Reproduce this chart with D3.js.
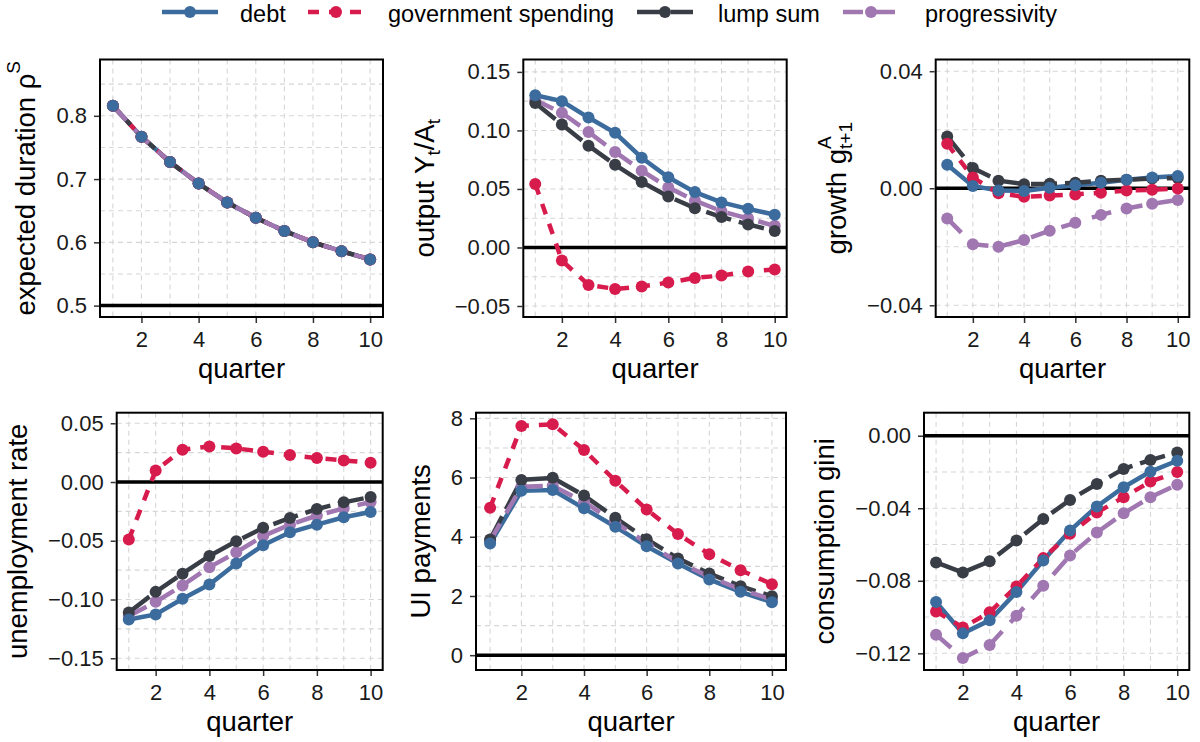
<!DOCTYPE html>
<html>
<head>
<meta charset="utf-8">
<script src="https://cdn.jsdelivr.net/npm/d3@7"></script>
<style>
  body { margin: 0; background: #fff; }
  text { font-family: "Liberation Sans", Arial, Helvetica, sans-serif; }
</style>
</head>
<body>
<script>
// quarters on the x axis
var quarters = [1, 2, 3, 4, 5, 6, 7, 8, 9, 10];
var seriesNames = ["debt", "government spending", "lump sum", "progressivity"];

// expected duration rho^S (all four financing schemes coincide)
var durationDebt = [0.816, 0.767, 0.727, 0.693, 0.663, 0.639, 0.618, 0.600, 0.586, 0.573];
var durationGov  = [0.816, 0.767, 0.727, 0.693, 0.663, 0.639, 0.618, 0.600, 0.586, 0.573];
var durationLump = [0.816, 0.767, 0.727, 0.693, 0.663, 0.639, 0.618, 0.600, 0.586, 0.573];
var durationProg = [0.816, 0.767, 0.727, 0.693, 0.663, 0.639, 0.618, 0.600, 0.586, 0.573];

// output Y_t / A_t
var outputDebt = [0.130, 0.125, 0.111, 0.098, 0.0767, 0.060, 0.0473, 0.0385, 0.033, 0.028];
var outputGov  = [0.0542, -0.0111, -0.032, -0.0354, -0.0334, -0.030, -0.026, -0.024, -0.0205, -0.0188];
var outputLump = [0.1235, 0.105, 0.087, 0.0707, 0.0559, 0.0436, 0.0336, 0.026, 0.0197, 0.014];
var outputProg = [0.126, 0.115, 0.0987, 0.0816, 0.0656, 0.0513, 0.040, 0.031, 0.0248, 0.0185];

// growth g^A_{t+1}
var growthDebt = [0.008, 0.0008, -0.0008, -0.0009, 0.0002, 0.001, 0.0019, 0.0029, 0.0037, 0.0042];
var growthGov  = [0.0152, 0.0037, -0.0017, -0.0029, -0.0025, -0.0021, -0.0015, -0.0008, -0.0005, -0.0001];
var growthLump = [0.0177, 0.0069, 0.0026, 0.0014, 0.0015, 0.0019, 0.0026, 0.0029, 0.0033, 0.0035];
var growthProg = [-0.0103, -0.0191, -0.020, -0.0177, -0.0145, -0.0118, -0.0091, -0.0069, -0.0053, -0.004];

// unemployment rate
var unempDebt = [-0.117, -0.1127, -0.0994, -0.0873, -0.0694, -0.0538, -0.0428, -0.0363, -0.030, -0.0255];
var unempGov  = [-0.049, 0.0099, 0.0275, 0.0303, 0.0286, 0.0258, 0.023, 0.0204, 0.0184, 0.0164];
var unempLump = [-0.111, -0.0935, -0.078, -0.063, -0.0504, -0.039, -0.0306, -0.023, -0.0173, -0.0127];
var unempProg = [-0.114, -0.102, -0.088, -0.0725, -0.0598, -0.046, -0.0363, -0.0286, -0.0224, -0.017];

// UI payments
var uiDebt = [3.77, 5.55, 5.58, 4.96, 4.34, 3.68, 3.10, 2.56, 2.14, 1.79];
var uiGov  = [4.98, 7.74, 7.80, 6.93, 5.89, 4.92, 4.09, 3.41, 2.87, 2.40];
var uiLump = [3.91, 5.92, 5.99, 5.39, 4.64, 3.92, 3.27, 2.76, 2.33, 1.99];
var uiProg = [3.86, 5.69, 5.72, 5.18, 4.48, 3.79, 3.15, 2.65, 2.22, 1.88];

// consumption gini
var giniDebt = [-0.0917, -0.109, -0.1018, -0.0862, -0.0688, -0.0523, -0.039, -0.0284, -0.0198, -0.0138];
var giniGov  = [-0.0969, -0.1057, -0.0974, -0.0831, -0.0675, -0.0541, -0.0424, -0.0339, -0.0253, -0.020];
var giniLump = [-0.0699, -0.0754, -0.0692, -0.0578, -0.0459, -0.0354, -0.0266, -0.0183, -0.0134, -0.0092];
var giniProg = [-0.1097, -0.1226, -0.1154, -0.0993, -0.0828, -0.066, -0.0534, -0.0428, -0.0339, -0.027];

// tick values
var xTicks = [2, 4, 6, 8, 10];
var xMinor = [1, 3, 5, 7, 9];
var durationTicks = [0.5, 0.6, 0.7, 0.8];
var outputTicks = [-0.05, 0, 0.05, 0.10, 0.15];
var growthTicks = [-0.04, 0, 0.04];
var unempTicks = [-0.15, -0.10, -0.05, 0, 0.05];
var uiTicks = [0, 2, 4, 6, 8];
var giniTicks = [-0.12, -0.08, -0.04, 0];

// styles
var colors = ["#3b6c9d", "#d81b4d", "#393d46", "#a077b1"];
var dashes = [null, "11,10", "26,8", "20,12"];
var fontFamily = "Liberation Sans, Arial, Helvetica, sans-serif";

var panels = [
  { box: [100, 59.5, 383, 317], domain: [0.482, 0.889], ticks: durationTicks, fmt: ".1f", hline: 0.5,
    values: [durationDebt, durationGov, durationLump, durationProg],
    title: [{ t: "expected duration \u03c1" }, { t: "S", sup: true }] },
  { box: [523.3, 59.5, 786.7, 317], domain: [-0.0594, 0.1606], ticks: outputTicks, fmt: ".2f", hline: 0,
    values: [outputDebt, outputGov, outputLump, outputProg],
    title: [{ t: "output Y" }, { t: "t", sub: true }, { t: "/A" }, { t: "t", sub: true }] },
  { box: [935.7, 59.5, 1189.3, 317], domain: [-0.044, 0.044], ticks: growthTicks, fmt: ".2f", hline: 0,
    values: [growthDebt, growthGov, growthLump, growthProg],
    title: [{ t: "growth g" }, { t: "A", sup: true, stack: true }, { t: "t+1", sub: true }] },
  { box: [116.7, 412.7, 382.7, 670], domain: [-0.16, 0.059], ticks: unempTicks, fmt: ".2f", hline: 0,
    values: [unempDebt, unempGov, unempLump, unempProg],
    title: [{ t: "unemployment rate" }] },
  { box: [476, 412.7, 786, 670], domain: [-0.5, 8.19], ticks: uiTicks, fmt: "d", hline: 0,
    values: [uiDebt, uiGov, uiLump, uiProg],
    title: [{ t: "UI payments" }] },
  { box: [924, 412.7, 1189.3, 670], domain: [-0.1292, 0.0127], ticks: giniTicks, fmt: ".2f", hline: 0,
    values: [giniDebt, giniGov, giniLump, giniProg],
    title: [{ t: "consumption gini" }] }
];

var svg = d3.select("body").append("svg")
  .attr("width", 1200)
  .attr("height", 742)
  .style("font-family", fontFamily);

panels.forEach(function(p, pi) {
  var left = p.box[0], top = p.box[1], right = p.box[2], bottom = p.box[3];
  var x = d3.scaleLinear().domain([0.55, 10.45]).range([left, right]);
  var y = d3.scaleLinear().domain(p.domain).range([bottom, top]);
  var g = svg.append("g");

  // minor y values halfway between major ticks
  var step = p.ticks[1] - p.ticks[0];
  var yMinor = [];
  for (var k = -1; k < p.ticks.length; k++) {
    var v = p.ticks[0] + step * (k + 0.5);
    if (v > p.domain[0] && v < p.domain[1]) yMinor.push(v);
  }

  var grid = g.append("g")
    .attr("stroke", "#d6d6d6")
    .attr("stroke-width", 1.1)
    .attr("stroke-dasharray", "5,4");
  grid.selectAll(".vx").data(xMinor.concat(xTicks)).enter().append("line")
    .attr("x1", function(d) { return x(d); }).attr("x2", function(d) { return x(d); })
    .attr("y1", top).attr("y2", bottom);
  grid.selectAll(".hy").data(yMinor.concat(p.ticks)).enter().append("line")
    .attr("y1", function(d) { return y(d); }).attr("y2", function(d) { return y(d); })
    .attr("x1", left).attr("x2", right);

  // reference line
  g.append("line")
    .attr("x1", left).attr("x2", right)
    .attr("y1", y(p.hline)).attr("y2", y(p.hline))
    .attr("stroke", "#000").attr("stroke-width", 3.5);

  var line = d3.line()
    .x(function(d, i) { return x(quarters[i]); })
    .y(function(d) { return y(d); });

  p.values.forEach(function(vals, si) {
    g.append("path")
      .attr("d", line(vals))
      .attr("fill", "none")
      .attr("stroke", colors[si])
      .attr("stroke-width", 4.5)
      .attr("stroke-dasharray", dashes[si]);
  });
  // points, debt drawn last
  p.values.slice().reverse().forEach(function(vals, ri) {
    var si = 3 - ri;
    g.selectAll(".pt" + si).data(vals).enter().append("circle")
      .attr("cx", function(d, i) { return x(quarters[i]); })
      .attr("cy", function(d) { return y(d); })
      .attr("r", 6)
      .attr("fill", colors[si]);
  });

  // panel border
  g.append("rect")
    .attr("x", left).attr("y", top)
    .attr("width", right - left).attr("height", bottom - top)
    .attr("fill", "none").attr("stroke", "#000").attr("stroke-width", 2);

  // axes
  var xAxis = g.append("g")
    .attr("transform", "translate(0," + (bottom + 1) + ")")
    .call(d3.axisBottom(x).tickValues(xTicks).tickSize(5).tickPadding(8).tickFormat(d3.format("d")));
  var yAxis = g.append("g")
    .attr("transform", "translate(" + (left - 1) + ",0)")
    .call(d3.axisLeft(y).tickValues(p.ticks).tickSize(5).tickPadding(7).tickFormat(d3.format(p.fmt)));
  [xAxis, yAxis].forEach(function(a) {
    a.select(".domain").remove();
    a.selectAll(".tick line").attr("stroke", "#333").attr("stroke-width", 1.5);
    a.selectAll("text").attr("fill", "#1a1a1a").attr("font-size", 22).attr("font-family", fontFamily);
    a.attr("font-family", null).attr("font-size", null);
  });

  // x title
  g.append("text")
    .attr("x", (left + right) / 2)
    .attr("y", bottom + 61)
    .attr("text-anchor", "middle")
    .attr("font-size", 27.5)
    .attr("fill", "#000")
    .text("quarter");

  // y title, placed left of the widest tick label
  var maxW = 0;
  yAxis.selectAll("text").each(function() { maxW = Math.max(maxW, this.getComputedTextLength()); });
  var baseX = left - 13 - maxW - 21;
  var tg = g.append("g").attr("transform", "translate(" + baseX + "," + ((top + bottom) / 2) + ") rotate(-90)");
  var cur = 0, stackW = 0;
  p.title.forEach(function(part) {
    var small = part.sub || part.sup;
    var t = tg.append("text")
      .attr("x", cur)
      .attr("y", part.sub ? 6 : (part.sup ? -15 : 0))
      .attr("font-size", small ? 19 : 27.5)
      .attr("fill", "#000")
      .text(part.t);
    var w = t.node().getComputedTextLength();
    if (part.stack) { stackW = w; }
    else { cur += Math.max(w, stackW); stackW = 0; }
  });
  tg.selectAll("text").attr("x", function() { return +d3.select(this).attr("x") - cur / 2; });
});

// legend
var keyX = [162, 308, 637, 843];
var labelX = [240, 388, 718, 925];
var legend = svg.append("g");
seriesNames.forEach(function(name, si) {
  legend.append("line")
    .attr("x1", keyX[si]).attr("x2", keyX[si] + 56)
    .attr("y1", 12).attr("y2", 12)
    .attr("stroke", colors[si])
    .attr("stroke-width", 4.5)
    .attr("stroke-dasharray", dashes[si]);
  legend.append("circle")
    .attr("cx", keyX[si] + 28).attr("cy", 12).attr("r", 6)
    .attr("fill", colors[si]);
  legend.append("text")
    .attr("x", labelX[si]).attr("y", 21.5)
    .attr("font-size", 23.5)
    .attr("fill", "#000")
    .text(name);
});
</script>
</body>
</html>
